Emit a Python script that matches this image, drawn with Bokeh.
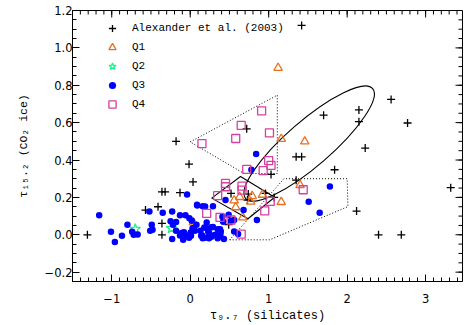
import math
from bokeh.plotting import figure
from bokeh.models import (Range1d, FixedTicker, CustomJSTickFormatter,
                          Legend, LegendItem)
from bokeh.embed import file_html
from bokeh.resources import INLINE

# ---------------- data (tau_9.7, tau_15.2) ----------------
alex_x = [1.42, -0.18, -0.015, -1.31, 0.036, -0.36, -0.32, -0.13, -0.41, -0.57,
          -0.36, -0.36, 0.49, 0.52, 1.70, 2.15, 2.15, 2.56, 2.77, 2.23,
          0.72, 1.35, 1.42, 1.84, 1.03, 1.35, 0.74, 0.73, 1.07, 2.12,
          2.40, 2.69, 3.32, 0.96]
alex_y = [1.12, 0.50, 0.378, 0.0, 0.283, 0.230, 0.230, 0.225, 0.150, 0.132,
          0.061, 0.0, 0.054, 0.221, 0.64, 0.668, 0.605, 0.724, 0.598, 0.464,
          0.567, 0.417, 0.417, 0.348, 0.323, 0.292, 0.218, 0.186, 0.200, 0.127,
          0.0, 0.0, 0.252, 0.221]

q1_x = [1.12, 1.16, 1.46, 1.40, 1.16, 0.92, 0.79, 0.77, 0.63, 0.56, 0.58, 0.67, 0.04]
q1_y = [0.893, 0.513, 0.499, 0.266, 0.175, 0.214, 0.207, 0.177, 0.202, 0.184, 0.147, 0.093, 0.066]

q2_x = [-0.70, -0.24]
q2_y = [0.030, 0.035]

q3_x = [-1.16, -1.01, -0.96, -0.87, -0.80, -0.74, -0.72, -0.67, -0.51, -0.48,
        -0.49, -0.52, -0.35, -0.23, -0.25, -0.22, -0.23, -0.18, -0.13, -0.11,
        -0.06, -0.04, -0.01, 0.02, 0.03, -0.04, 0.01, 0.06, 0.08, 0.09,
        0.13, 0.14, 0.19, 0.21, 0.21, 0.16, 0.24, 0.27, 0.24, 0.29,
        0.32, 0.35, 0.38, 0.39, 0.41, 0.43, 0.36, 0.42, 0.49, 0.52,
        0.45, 0.56, 0.61, 0.68, 0.85, 0.84, 0.78, 1.78, 1.51, 1.65,
        0.56, -0.18, -0.08, -0.05, 0.006, -0.015, -0.13, -0.09, 0.18, 0.27,
        0.23, 0.15, 0.26, 0.19, 0.385, 0.35, 0.087, 0.16, 0.29]
q3_y = [0.105, 0.016, -0.039, -0.005, 0.054, 0.016, 0.0, 0.002, 0.021, 0.027,
        0.054, 0.125, 0.118, 0.125, 0.072, 0.054, -0.023, 0.021, 0.105, 0.009,
        0.105, 0.216, 0.088, 0.075, 0.035, -0.005, -0.005, 0.021, 0.054, 0.157,
        0.021, -0.005, 0.151, 0.066, 0.035, -0.018, -0.018, -0.011, 0.010, 0.042,
        0.0, 0.030, 0.030, 0.018, 0.096, -0.023, -0.011, 0.070, 0.107, 0.075,
        0.186, 0.018, 0.004, 0.132, 0.079, 0.432, 0.348, 0.258, 0.177, 0.118,
        0.079, 0.068, 0.014, -0.005, 0.012, -0.016, -0.004, -0.027, 0.039, 0.040,
        0.016, -0.002, -0.002, -0.016, 0.002, -0.018, 0.161, 0.152, 0.152]

q4_x = [0.15, 0.58, 0.65, 0.91, 1.01, 1.00, 1.03, 0.93, 0.72, 0.45, 0.45,
        0.35, 0.66, 0.66, 0.21, 0.38, 0.52, 0.65, 0.95, 1.02, 1.44]
q4_y = [0.488, 0.515, 0.585, 0.663, 0.545, 0.397, 0.371, 0.343, 0.350, 0.275, 0.257,
        0.209, 0.260, 0.239, 0.114, 0.093, 0.079, 0.004, 0.128, 0.179, 0.241]

# outlined regions (vertices in data units)
tri_region_x = [0.0, 1.11, 1.11, 0.685]
tri_region_y = [0.497, 0.747, 0.328, 0.328]
pent_region_x = [0.503, 1.013, 2.01, 2.0, 1.195]
pent_region_y = [-0.027, -0.027, 0.151, 0.300, 0.300]
diamond_x = [0.274, 0.641, 1.076, 0.736]
diamond_y = [0.196, 0.312, 0.201, 0.086]
ellipse_x = [1.516]
ellipse_y = [0.488]

x_title = "\u03c4\u2089.\u2087 (silicates)"
y_title = "\u03c4\u2081\u2085.\u2082 (CO\u2082 ice)"

X_START, X_END = -1.5, 3.47
Y_START, Y_END = -0.25, 1.2
x_ticks = [-1, 0, 1, 2, 3]
y_ticks = [-0.2, 0.0, 0.2, 0.4, 0.6, 0.8, 1.0, 1.2]
x_minor = [round(-1.5 + 0.1 * i, 2) for i in range(50)]
y_minor = [round(-0.25 + 0.05 * i, 2) for i in range(30)]

FRAME_W, FRAME_H = 390, 271
MAJOR_LEN, MINOR_LEN = 7, 4

# ---------------- figure ----------------
p = figure(frame_width=FRAME_W, frame_height=FRAME_H,
           x_range=Range1d(X_START, X_END), y_range=Range1d(Y_START, Y_END),
           output_backend="svg", toolbar_location=None,
           min_border_left=72, min_border_right=3, min_border_top=10, min_border_bottom=40)
p.xgrid.visible = False
p.ygrid.visible = False
p.outline_line_color = "black"
p.outline_line_width = 1
p.background_fill_color = "white"
p.border_fill_color = "white"

TICK_FONT = "DejaVu Sans"
TICK_SIZE = "11.5px"
TITLE_FONT = "Liberation Mono"

def style_axis(ax, ticks, minor, title_size):
    ax.ticker = FixedTicker(ticks=ticks, minor_ticks=minor)
    ax.major_tick_in = MAJOR_LEN
    ax.major_tick_out = 0
    ax.minor_tick_in = MINOR_LEN
    ax.minor_tick_out = 0
    ax.axis_line_color = "black"
    ax.major_tick_line_color = "black"
    ax.minor_tick_line_color = "black"
    ax.major_label_text_font = TICK_FONT
    ax.major_label_text_color = "black"
    ax.major_label_text_font_size = TICK_SIZE
    ax.axis_label_text_font = TITLE_FONT
    ax.axis_label_text_font_size = title_size
    ax.axis_label_text_font_style = "normal"
    ax.axis_label_text_color = "black"

style_axis(p.xaxis[0], x_ticks, x_minor, "12px")
style_axis(p.yaxis[0], y_ticks, y_minor, "11.5px")
p.xaxis[0].major_label_standoff = 12
p.yaxis[0].major_label_standoff = 0
p.xaxis[0].axis_label = x_title
p.yaxis[0].axis_label = y_title
p.xaxis[0].axis_label_standoff = 3
p.yaxis[0].axis_label_standoff = 12
p.xaxis[0].formatter = CustomJSTickFormatter(
    code="return tick < 0 ? '\u2212' + Math.abs(tick).toFixed(0) : tick.toFixed(0);")
p.yaxis[0].formatter = CustomJSTickFormatter(
    code="const s = Math.abs(tick).toFixed(1); return tick < -1e-9 ? '\u2212' + s : s;")

# mirrored inward ticks on the top and right edges
dy_major = MAJOR_LEN * (Y_END - Y_START) / FRAME_H
dy_minor = MINOR_LEN * (Y_END - Y_START) / FRAME_H
dx_major = MAJOR_LEN * (X_END - X_START) / FRAME_W
dx_minor = MINOR_LEN * (X_END - X_START) / FRAME_W
p.segment(x0=x_ticks, y0=[Y_END] * len(x_ticks), x1=x_ticks,
          y1=[Y_END - dy_major] * len(x_ticks), line_color="black", line_width=1)
p.segment(x0=x_minor, y0=[Y_END] * len(x_minor), x1=x_minor,
          y1=[Y_END - dy_minor] * len(x_minor), line_color="black", line_width=1)
p.segment(x0=[X_END] * len(y_ticks), y0=y_ticks, x1=[X_END - dx_major] * len(y_ticks),
          y1=y_ticks, line_color="black", line_width=1)
p.segment(x0=[X_END] * len(y_minor), y0=y_minor, x1=[X_END - dx_minor] * len(y_minor),
          y1=y_minor, line_color="black", line_width=1)

# ---------------- region outlines ----------------
p.patch(tri_region_x, tri_region_y, fill_color=None, line_color="black",
        line_width=1, line_dash="1 2")
p.patch(pent_region_x, pent_region_y, fill_color=None, line_color="black",
        line_width=1, line_dash="1 2")
p.patch(diamond_x, diamond_y, fill_color=None, line_color="black", line_width=1.1)
p.ellipse(x=ellipse_x, y=ellipse_y, width=168, height=45, angle=math.radians(40.9),
          width_units="screen", height_units="screen",
          fill_color=None, line_color="black", line_width=1.1)

# ---------------- points ----------------
r_alex = p.scatter(alex_x, alex_y, marker="cross", size=8, line_color="black", line_width=1.3)
r_q1 = p.scatter(q1_x, q1_y, marker="triangle", size=8.5, fill_color=None,
                 line_color="#e8701e", line_width=1.3)
r_q2 = p.scatter(q2_x, q2_y, marker="star", size=11, fill_color=None,
                 line_color="#1ff08c", line_width=1.3)
r_q3 = p.scatter(q3_x, q3_y, marker="circle", size=6.5, fill_color="#0000ff", line_color=None)
r_q4 = p.scatter(q4_x, q4_y, marker="square", size=8, fill_color=None,
                 line_color="#d6409f", line_width=1.3)

legend = Legend(items=[
    LegendItem(label="Alexander et al. (2003)", renderers=[r_alex]),
    LegendItem(label="Q1", renderers=[r_q1]),
    LegendItem(label="Q2", renderers=[r_q2]),
    LegendItem(label="Q3", renderers=[r_q3]),
    LegendItem(label="Q4", renderers=[r_q4]),
], location=(30, 168), orientation="vertical",
    border_line_color=None, background_fill_alpha=0, padding=0, margin=0, spacing=1,
    glyph_height=18, glyph_width=20, label_height=18, label_standoff=10,
    label_text_font="Liberation Mono", label_text_font_size="11px",
    label_text_color="black", label_text_baseline="middle")
p.add_layout(legend)

open("out.html", "w").write(file_html(p, INLINE))
